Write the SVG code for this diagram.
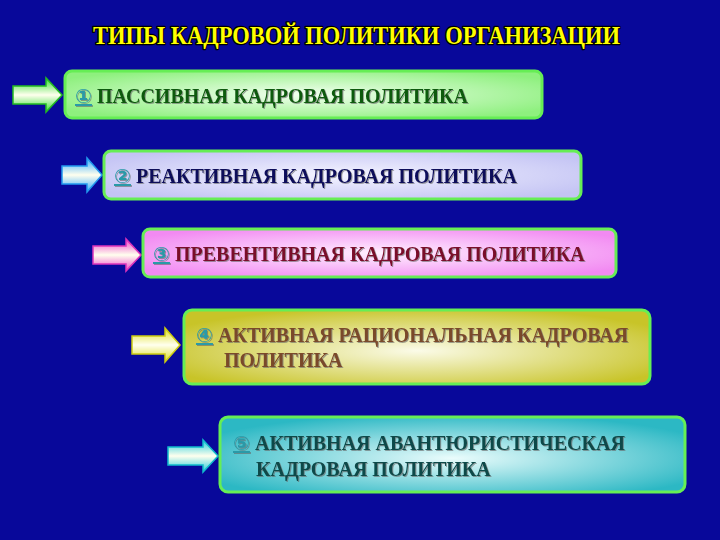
<svg xmlns="http://www.w3.org/2000/svg" width="720" height="540" viewBox="0 0 720 540">
<defs>
<radialGradient id="g1" cx="0.5" cy="0.5" r="0.6"><stop offset="0" stop-color="#f2fff0"/><stop offset="1" stop-color="#8ef07e"/></radialGradient>
<radialGradient id="g2" cx="0.5" cy="0.5" r="0.6"><stop offset="0" stop-color="#f4f4ff"/><stop offset="1" stop-color="#c4c4f4"/></radialGradient>
<radialGradient id="g3" cx="0.5" cy="0.5" r="0.6"><stop offset="0" stop-color="#fff0ff"/><stop offset="1" stop-color="#f28af2"/></radialGradient>
<radialGradient id="g4" cx="0.5" cy="0.55" r="0.6"><stop offset="0" stop-color="#fbfbe8"/><stop offset="1" stop-color="#c8c428"/></radialGradient>
<radialGradient id="g5" cx="0.5" cy="0.55" r="0.6"><stop offset="0" stop-color="#eafcfc"/><stop offset="1" stop-color="#2cb8c4"/></radialGradient>
<linearGradient id="a1" x1="0" y1="0" x2="0" y2="1"><stop offset="0" stop-color="#33dd33"/><stop offset="0.5" stop-color="#ffffee"/><stop offset="1" stop-color="#33dd33"/></linearGradient>
<linearGradient id="a2" x1="0" y1="0" x2="0" y2="1"><stop offset="0" stop-color="#33aaff"/><stop offset="0.5" stop-color="#ffffee"/><stop offset="1" stop-color="#33aaff"/></linearGradient>
<linearGradient id="a3" x1="0" y1="0" x2="0" y2="1"><stop offset="0" stop-color="#ee44cc"/><stop offset="0.5" stop-color="#ffffee"/><stop offset="1" stop-color="#ee44cc"/></linearGradient>
<linearGradient id="a4" x1="0" y1="0" x2="0" y2="1"><stop offset="0" stop-color="#dddd22"/><stop offset="0.5" stop-color="#ffffee"/><stop offset="1" stop-color="#dddd22"/></linearGradient>
<linearGradient id="a5" x1="0" y1="0" x2="0" y2="1"><stop offset="0" stop-color="#22ccdd"/><stop offset="0.5" stop-color="#ffffee"/><stop offset="1" stop-color="#22ccdd"/></linearGradient>
<filter id="sh" x="-5%" y="-20%" width="110%" height="140%"><feDropShadow dx="1" dy="1" stdDeviation="0.6" flood-color="#666" flood-opacity="0.6"/></filter>
</defs>
<style>
.box{stroke:#66ee55;stroke-width:3}
.t{font-family:"Liberation Serif","Times New Roman",serif;font-weight:bold;font-size:20px;filter:url(#sh)}
.n{fill:#2a9aa8;text-decoration:underline;font-family:"DejaVu Sans","Noto Sans CJK SC",sans-serif;font-weight:bold;font-size:20px}
.title{font-family:"Liberation Serif","Times New Roman",serif;font-weight:bold;font-size:25px;fill:#ffff00;stroke:#000;stroke-width:2.5;paint-order:stroke;stroke-linejoin:round}
</style>
<rect width="720" height="540" fill="#08089a"/>
<text class="title" x="93" y="44" textLength="527" lengthAdjust="spacingAndGlyphs">ТИПЫ КАДРОВОЙ ПОЛИТИКИ ОРГАНИЗАЦИИ</text>
<g id="connectors">
<polygon points="13,86 46,86 46,78 62,95 46,112 46,104 13,104" fill="url(#a1)" stroke="#22bb22" stroke-width="1.5"/>
<polygon points="62,166 87,166 87,158 102,175 87,192 87,184 62,184" fill="url(#a2)" stroke="#2299ee" stroke-width="1.5"/>
<polygon points="93,246 126,246 126,239 141,255 126,271 126,264 93,264" fill="url(#a3)" stroke="#dd33bb" stroke-width="1.5"/>
<polygon points="132,336 165,336 165,328 180,345 165,362 165,354 132,354" fill="url(#a4)" stroke="#cccc11" stroke-width="1.5"/>
<polygon points="168,447 203,447 203,440 218,456 203,472 203,465 168,465" fill="url(#a5)" stroke="#11bbcc" stroke-width="1.5"/>
</g>
<g id="node1">
<rect class="box" x="65" y="71" width="477" height="47" rx="7" fill="url(#g1)"/>
<text class="t" x="75" y="103" fill="#0a5a0a"><tspan class="n">①</tspan> ПАССИВНАЯ КАДРОВАЯ ПОЛИТИКА</text>
</g>
<g id="node2">
<rect class="box" x="104" y="151" width="477" height="48" rx="7" fill="url(#g2)"/>
<text class="t" x="114" y="183" fill="#0a0a5a"><tspan class="n">②</tspan> РЕАКТИВНАЯ КАДРОВАЯ ПОЛИТИКА</text>
</g>
<g id="node3">
<rect class="box" x="143" y="229" width="473" height="48" rx="7" fill="url(#g3)"/>
<text class="t" x="153" y="261" fill="#7a0a2a"><tspan class="n">③</tspan> ПРЕВЕНТИВНАЯ КАДРОВАЯ ПОЛИТИКА</text>
</g>
<g id="node4">
<rect class="box" x="184" y="310" width="466" height="74" rx="8" fill="url(#g4)"/>
<text class="t" x="196" y="342" fill="#7a4a2a"><tspan class="n">④</tspan> АКТИВНАЯ РАЦИОНАЛЬНАЯ КАДРОВАЯ</text>
<text class="t" x="224" y="367" fill="#7a4a2a">ПОЛИТИКА</text>
</g>
<g id="node5">
<rect class="box" x="220" y="417" width="465" height="75" rx="8" fill="url(#g5)"/>
<text class="t" x="233" y="450" fill="#0a4a4a"><tspan class="n">⑤</tspan> АКТИВНАЯ АВАНТЮРИСТИЧЕСКАЯ</text>
<text class="t" x="256" y="476" fill="#0a4a4a">КАДРОВАЯ ПОЛИТИКА</text>
</g>
</svg>
